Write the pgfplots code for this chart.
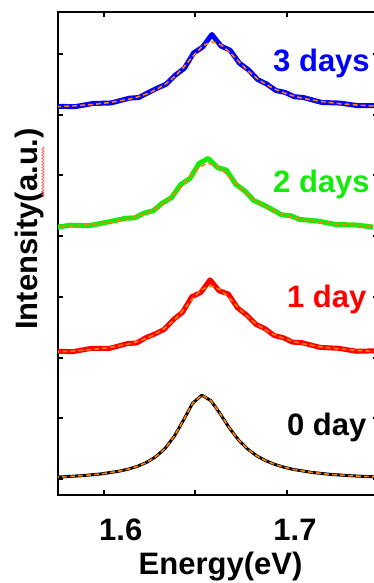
\documentclass[border=0pt]{standalone}
\usepackage{fontspec}
\setmainfont{Liberation Sans}
\usepackage{pgfplots}
\pgfplotsset{compat=1.18}
\usetikzlibrary{decorations.pathmorphing}
\definecolor{fitorange}{RGB}{255,128,0}
\definecolor{dblue}{RGB}{0,0,255}
\definecolor{dgreen}{RGB}{20,235,10}
\definecolor{dred}{RGB}{255,0,0}
\newcommand{\bigfont}{\fontsize{31}{36}\selectfont\bfseries}
\begin{document}
\begin{tikzpicture}
\clip (-58pt,-88pt) rectangle (316pt,495pt);
\begin{axis}[
  at={(0,0)}, anchor=south west,
  scale only axis, width=320pt, height=483pt,
  xmin=1.575, xmax=1.7497, ymin=-0.264, ymax=7.69,
  xtick={1.6,1.65,1.7},
  xticklabels={\hspace*{34pt}1.6,,\hspace*{16pt}1.7},
  xticklabel style={font=\bigfont, anchor=base, yshift=-45pt},
  ytick={0,1,2,3,4,5,6,7}, yticklabels={},
  tick align=inside, major tick length=5pt,
  tick style={line width=2pt, black},
  axis line style={line width=2.5pt},
  xlabel={Energy(eV)}, ylabel={Intensity(a.u.)},
  xlabel style={font=\bigfont, at={(axis description cs:0.508,-0.1656)}, anchor=base},
  ylabel style={font=\bigfont, at={(axis description cs:-0.0633,0.551)}, anchor=base},
  fitline/.style={no marks, fitorange, line width=1.6pt, dash pattern=on 5pt off 3pt},
  dataline/.style={no marks, line width=5pt, line join=round},
]
% 0 day
\addplot[dataline, black, line width=3pt] coordinates {
(1.5685,0.025)(1.5785,0.037)(1.5885,0.055)(1.5985,0.083)(1.6085,0.129)(1.6135,0.163)
(1.6185,0.210)(1.6235,0.275)(1.6285,0.369)(1.6335,0.505)(1.6385,0.703)(1.6435,0.969)
(1.6485,1.248)(1.6535,1.380)(1.6585,1.289)(1.6635,1.076)(1.6685,0.842)(1.6735,0.644)
(1.6785,0.493)(1.6835,0.381)(1.6885,0.299)(1.6935,0.238)(1.6985,0.192)(1.7035,0.157)
(1.7135,0.108)(1.7235,0.076)(1.7335,0.055)(1.7435,0.040)(1.7535,0.029)};
\addplot[fitline] coordinates {
(1.5685,0.025)(1.5785,0.037)(1.5885,0.055)(1.5985,0.083)(1.6085,0.129)(1.6135,0.163)
(1.6185,0.210)(1.6235,0.275)(1.6285,0.369)(1.6335,0.505)(1.6385,0.703)(1.6435,0.969)
(1.6485,1.248)(1.6535,1.380)(1.6585,1.289)(1.6635,1.076)(1.6685,0.842)(1.6735,0.644)
(1.6785,0.493)(1.6835,0.381)(1.6885,0.299)(1.6935,0.238)(1.6985,0.192)(1.7035,0.157)
(1.7135,0.108)(1.7235,0.076)(1.7335,0.055)(1.7435,0.040)(1.7535,0.029)};
% 1 day
\addplot[dataline, dred] coordinates {
(1.573,2.105)(1.583,2.096)(1.593,2.150)(1.603,2.149)(1.613,2.230)(1.618,2.240)
(1.623,2.328)(1.628,2.389)(1.633,2.464)(1.638,2.625)(1.643,2.746)(1.648,3.000)
(1.653,3.072)(1.658,3.280)(1.663,3.098)(1.668,3.047)(1.673,2.817)(1.678,2.700)
(1.683,2.547)(1.688,2.476)(1.693,2.362)(1.698,2.326)(1.703,2.253)(1.708,2.246)
(1.718,2.167)(1.728,2.152)(1.738,2.103)(1.748,2.110)};
\addplot[fitline] coordinates {
(1.573,2.090)(1.583,2.106)(1.593,2.130)(1.603,2.164)(1.613,2.220)(1.618,2.260)
(1.623,2.313)(1.628,2.384)(1.633,2.479)(1.638,2.605)(1.643,2.766)(1.648,2.950)
(1.653,3.112)(1.658,3.180)(1.663,3.128)(1.668,2.997)(1.673,2.837)(1.678,2.685)
(1.683,2.557)(1.688,2.456)(1.693,2.377)(1.698,2.316)(1.703,2.268)(1.708,2.231)
(1.718,2.177)(1.728,2.142)(1.738,2.118)(1.748,2.100)};
% 2 days
\addplot[dataline, dgreen] coordinates {
(1.572,4.138)(1.582,4.179)(1.592,4.171)(1.602,4.230)(1.612,4.293)(1.617,4.302)
(1.622,4.378)(1.627,4.417)(1.632,4.543)(1.637,4.635)(1.642,4.850)(1.647,4.948)
(1.652,5.195)(1.657,5.280)(1.662,5.130)(1.667,5.084)(1.672,4.854)(1.677,4.742)
(1.682,4.584)(1.687,4.516)(1.692,4.435)(1.697,4.351)(1.702,4.335)(1.707,4.274)
(1.717,4.247)(1.727,4.188)(1.737,4.185)(1.747,4.148)};
\addplot[fitline] coordinates {
(1.572,4.148)(1.582,4.164)(1.592,4.186)(1.602,4.220)(1.612,4.273)(1.617,4.312)
(1.622,4.363)(1.627,4.432)(1.632,4.523)(1.637,4.645)(1.642,4.800)(1.647,4.978)
(1.652,5.135)(1.657,5.200)(1.662,5.150)(1.667,5.024)(1.672,4.869)(1.677,4.722)
(1.682,4.599)(1.687,4.501)(1.692,4.425)(1.697,4.366)(1.702,4.320)(1.707,4.284)
(1.717,4.232)(1.727,4.198)(1.737,4.175)(1.747,4.158)};
% 3 days
\addplot[dataline, dblue] coordinates {
(1.574,6.139)(1.584,6.130)(1.594,6.183)(1.604,6.192)(1.614,6.271)(1.619,6.281)
(1.624,6.358)(1.629,6.433)(1.634,6.501)(1.639,6.650)(1.644,6.763)(1.649,7.014)
(1.654,7.114)(1.659,7.320)(1.664,7.129)(1.669,7.060)(1.674,6.848)(1.679,6.738)
(1.684,6.578)(1.689,6.503)(1.694,6.396)(1.699,6.366)(1.704,6.294)(1.709,6.282)
(1.719,6.200)(1.729,6.190)(1.739,6.146)(1.749,6.149)};
\addplot[fitline] coordinates {
(1.574,6.129)(1.584,6.145)(1.594,6.168)(1.604,6.202)(1.614,6.256)(1.619,6.296)
(1.624,6.348)(1.629,6.418)(1.634,6.511)(1.639,6.635)(1.644,6.793)(1.649,6.974)
(1.654,7.134)(1.659,7.200)(1.664,7.149)(1.669,7.020)(1.674,6.863)(1.679,6.713)
(1.684,6.588)(1.689,6.488)(1.694,6.411)(1.699,6.351)(1.704,6.304)(1.709,6.267)
(1.719,6.215)(1.729,6.180)(1.739,6.156)(1.749,6.139)};
\node[anchor=base west, inner sep=0, font=\bigfont, text=dblue] at (axis cs:1.6924,6.705) {3 days};
\node[anchor=base west, inner sep=0, font=\bigfont, text=dgreen] at (axis cs:1.6924,4.71) {2 days};
\node[anchor=base west, inner sep=0, font=\bigfont, text=dred] at (axis cs:1.700,2.817) {1 day};
\node[anchor=base west, inner sep=0, font=\bigfont, text=black] at (axis cs:1.700,0.708) {0 day};
\end{axis}
\draw[red!70, line width=0.6pt, decorate, decoration={snake, amplitude=1.2pt, segment length=3pt}] (-15pt,348pt) -- (-15pt,298pt);
\end{tikzpicture}
\end{document}
